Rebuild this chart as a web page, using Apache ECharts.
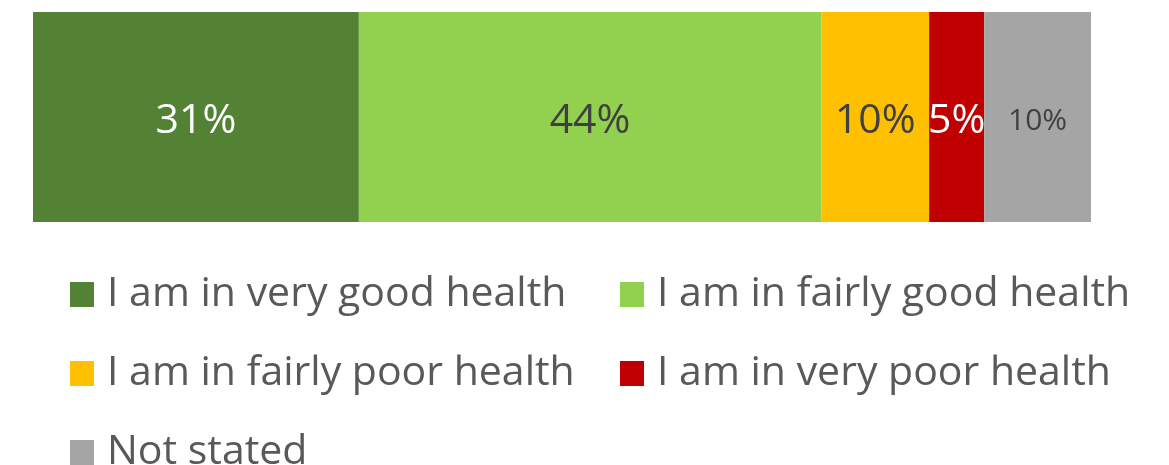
<!DOCTYPE html>
<html>
<head>
<meta charset="utf-8">
<script src="https://cdn.jsdelivr.net/npm/echarts@6/dist/echarts.min.js"></script>
<style>
html,body{margin:0;padding:0;background:#fff;}
#c{width:1169px;height:465px;}
</style>
</head>
<body>
<div id="c"></div>
<script>
const categories = ['Health'];
const seriesNames = ['I am in very good health','I am in fairly good health','I am in fairly poor health','I am in very poor health','Not stated'];
const seriesValues = [30.8, 43.7, 10.2, 5.2, 10.1];
const labelTexts = ['31%','44%','10%','5%','10%'];
const colors = ['#548235','#92D050','#FFC000','#C00000','#A5A5A5'];
const labelColors = ['#FFFFFF','#404040','#404040','#FFFFFF','#404040'];
const labelSizes = [41,41,41,41,30];

const FONT = '"Open Sans", sans-serif';
const chart = echarts.init(document.getElementById('c'), null, {renderer:'canvas'});

const series = seriesNames.map((n,i)=>({
  name:n, type:'bar', stack:'total', barWidth:'100%',
  data:[seriesValues[i]],
  itemStyle:{color:colors[i]},
  label:{show:true, position:'inside', offset:[0,4], formatter:()=>labelTexts[i],
    color:labelColors[i], fontSize:labelSizes[i], fontFamily:FONT, textBorderWidth:0},
  emphasis:{disabled:true}
}));

const legendPos = [[70,274],[620,274],[70,353],[620,353],[70,432]];
const legends = seriesNames.map((n,i)=>({
  data:[n], left:legendPos[i][0], top:legendPos[i][1], padding:0,
  icon:'rect', itemWidth:24, itemHeight:25,
  selectedMode:false,
  textStyle:{fontSize:41, fontFamily:FONT, color:'#595959', lineHeight:25, padding:[0,0,0,8]}
}));

chart.setOption({
  animation:false,
  color:colors,
  grid:{left:33, right:78, top:12, height:210, containLabel:false},
  xAxis:{type:'value', min:0, max:100, show:false},
  yAxis:{type:'category', data:categories, show:false},
  legend:legends,
  series:series
});
</script>
</body>
</html>
